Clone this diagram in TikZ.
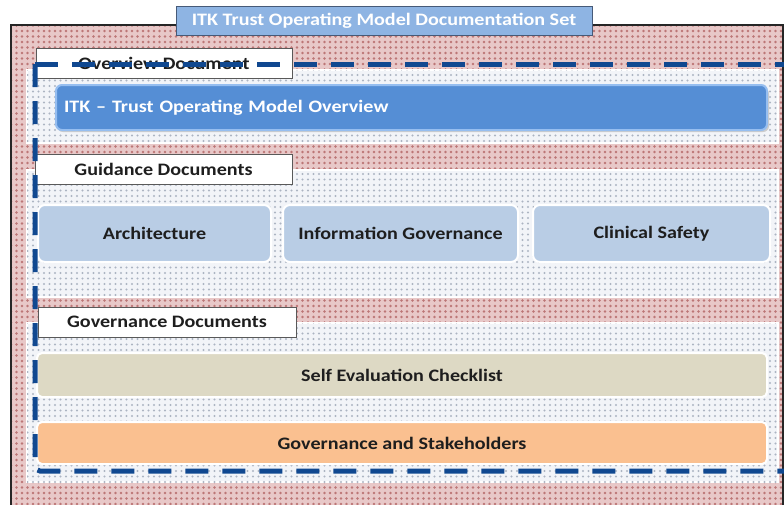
\documentclass[tikz,border=0pt]{standalone}
\usepackage{fontspec}
\setmainfont[FakeStretch=1.15]{Carlito}
\usetikzlibrary{patterns.meta}
\definecolor{pinkbase}{RGB}{232,200,200}
\definecolor{pinkdot}{RGB}{188,118,118}
\definecolor{panelbase}{RGB}{242,244,248}
\definecolor{paneldot}{RGB}{172,180,194}
\definecolor{tabfill}{RGB}{142,180,227}
\definecolor{tabdraw}{RGB}{70,90,120}
\definecolor{barblue}{RGB}{85,142,213}
\definecolor{barline}{RGB}{150,190,240}
\definecolor{guidefill}{RGB}{185,205,229}
\definecolor{beige}{RGB}{221,217,196}
\definecolor{peach}{RGB}{250,192,144}
\definecolor{dashblue}{RGB}{16,72,144}
\definecolor{txt}{RGB}{30,30,30}
\tikzset{
  panel/.style={fill=panelbase, postaction={pattern={Dots[radius=1.1pt,distance=5.5pt]}, pattern color=paneldot}, draw=white, line width=2pt},
  lbl/.style={draw=gray!70!black, line width=0.8pt, fill=white, minimum height=30pt, inner sep=0pt, text=txt},
  gbox/.style={fill=guidefill, draw=white, line width=2pt, rounded corners=7pt, minimum height=57pt, inner sep=0pt, text=txt},
  wbar/.style={draw=white, line width=2pt, rounded corners=5pt, inner sep=0pt, text=txt, minimum width=730pt},
  titletab/.style={fill=tabfill, draw=tabdraw, line width=1pt, text=white, minimum width=416pt, minimum height=29pt, inner sep=0pt},
  bluebar/.style={fill=barblue, draw=barline, line width=2pt, rounded corners=6pt, text=white, minimum height=45pt, text width=695pt, align=left, inner xsep=8pt, inner ysep=0pt},
  dashline/.style={draw=dashblue, line width=5pt, dash pattern=on 23pt off 14pt}
}
\begin{document}
\begin{tikzpicture}[x=1pt,y=-1pt,font=\fontsize{17.5}{20}\selectfont\bfseries]
\useasboundingbox (0,0) rectangle (784,504);
\clip (0,0) rectangle (784,504);
% outer frame
\fill[pinkbase] (11,25) rectangle (783,510);
\fill[pattern={Dots[radius=1.4pt,distance=5.5pt]}, pattern color=pinkdot] (11,25) rectangle (783,510);
\draw[line width=2pt, black!85] (11,510) -- (11,25) -- (783,25) -- (783,510);
% panels
\path[panel] (27,70) rectangle (778,143);
\path[panel] (27,170) rectangle (778,297);
\path[panel] (27,323) rectangle (778,482);
% label boxes
\node[lbl, minimum width=256pt] (ovlbl) at (164,63) {Overview Document};
\node[lbl, minimum width=257pt] (gulbl) at (163.5,169) {Guidance Documents};
\node[lbl, minimum width=258pt] (golbl) at (167,322) {Governance Documents};
% overview bar
\fill[gray!40, rounded corners=6pt] (57,88) rectangle (769,132);
\node[bluebar, anchor=west] (ov) at (55,107.5) {ITK -- Trust Operating Model Overview};
% guidance boxes
\node[gbox, minimum width=233pt] (arch) at (154.5,233.5) {Architecture};
\node[gbox, minimum width=235pt] (ig) at (400.5,233.5) {Information Governance};
\node[gbox, minimum width=237pt] (cs) at (651.5,233.5) {Clinical Safety};
% governance bars
\node[wbar, fill=beige, minimum height=44pt] (sec) at (402,375) {Self Evaluation Checklist};
\node[wbar, fill=peach, minimum height=42pt] (gs) at (402,443) {Governance and Stakeholders};
% dashed outline
\coordinate (tl) at (35,64);
\coordinate (tr) at (800,64);
\coordinate (bl) at (35,471);
\coordinate (br) at (800,471);
\draw[dashline] (tl) -- (tr);
\draw[dashline, rounded corners=5pt] (tl) -- (bl) -- (br);
% title tab
\node[titletab] (title) at (384,20.5) {ITK Trust Operating Model Documentation Set};
\end{tikzpicture}
\end{document}
